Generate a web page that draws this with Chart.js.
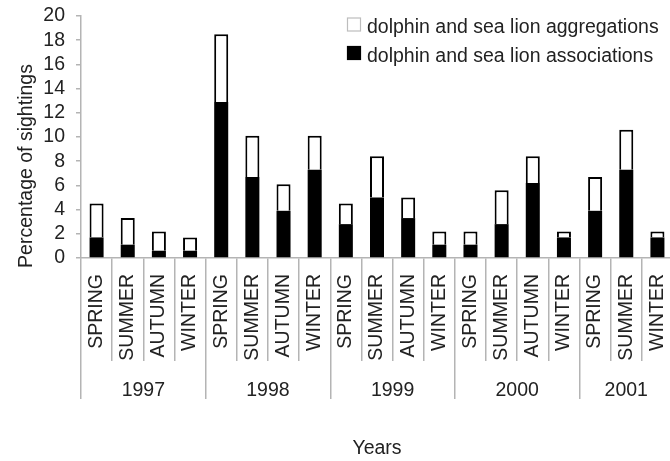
<!DOCTYPE html>
<html>
<head>
<meta charset="utf-8">
<script src="https://cdn.jsdelivr.net/npm/chart.js@4.4.1/dist/chart.umd.min.js"></script>
<style>
  html, body { margin: 0; padding: 0; background: #fff; overflow: hidden; }
  #wrap { width: 670px; height: 461px; overflow: hidden; position: relative; }
  canvas { display: block; }
</style>
</head>
<body>
<div id="wrap"><canvas id="c" width="676" height="461"></canvas></div>
<script>
// ---- data ----
const seasons = ['SPRING','SUMMER','AUTUMN','WINTER',
                 'SPRING','SUMMER','AUTUMN','WINTER',
                 'SPRING','SUMMER','AUTUMN','WINTER',
                 'SPRING','SUMMER','AUTUMN','WINTER',
                 'SPRING','SUMMER','WINTER'];
const years = ['1997','1998','1999','2000','2001'];
const seasonsPerYear = [4, 4, 4, 4, 3];
const associations = [1.7, 1.1, 0.6, 0.6,
                      12.9, 6.7, 3.9, 7.3,
                      2.8, 5.0, 3.3, 1.1,
                      1.1, 2.8, 6.2, 1.7,
                      3.9, 7.3, 1.7];
const aggregations = [2.8, 2.2, 1.6, 1.1,
                      5.6, 3.4, 2.2, 2.8,
                      1.7, 3.4, 1.7, 1.1,
                      1.1, 2.8, 2.2, 0.5,
                      2.8, 3.3, 0.5];
const seriesNames = ['dolphin and sea lion associations', 'dolphin and sea lion aggregations'];
const yTicks = [0, 20, 2]; // min, max, step
const yTitle = 'Percentage of sightings';
const xTitle = 'Years';

// ---- style ----
const FS = 19.5;
const FONT_FAMILY = '"Liberation Sans", Arial, Helvetica, sans-serif';
const TEXT = '#222222';
const LINE = '#b4b4b4';
const font = { family: FONT_FAMILY, size: FS };

// year group tick positions (boundaries and centres) on a linear axis aligned with categories
const bounds = [-0.5];
const centres = [];
seasonsPerYear.forEach((n) => {
  const start = bounds[bounds.length - 1];
  centres.push(start + n / 2);
  bounds.push(start + n);
});
const yearTickVals = bounds.concat(centres).sort((a, b) => a - b);
const isBound = v => bounds.some(b => Math.abs(b - v) < 1e-6);
const yearLabelFor = v => {
  const i = centres.findIndex(c => Math.abs(c - v) < 1e-6);
  return i >= 0 ? years[i] : '';
};

const overlay = {
  id: 'overlay',
  afterDraw(chart) {
    const ctx = chart.ctx, a = chart.chartArea;
    ctx.save();
    ctx.font = FS + 'px ' + FONT_FAMILY;
    ctx.fillStyle = TEXT;
    // y-axis title
    ctx.save();
    ctx.translate(32, (a.top + a.bottom) / 2 + 29);
    ctx.rotate(-Math.PI / 2);
    ctx.textAlign = 'center';
    ctx.textBaseline = 'alphabetic';
    ctx.fillText(yTitle, 0, 0);
    ctx.restore();
    // legend (top entry = upper stack segment)
    const items = [
      { text: seriesNames[1], fill: '#ffffff', stroke: '#bdbdbd' },
      { text: seriesNames[0], fill: '#000000', stroke: '#000000' }
    ];
    const bx = a.left + 266;
    items.forEach((it, i) => {
      const by = a.top + 1.5 + i * 28.5;
      ctx.fillStyle = it.fill;
      ctx.fillRect(bx, by, 14, 14);
      ctx.strokeStyle = it.stroke;
      ctx.lineWidth = 1.2;
      ctx.strokeRect(bx + 0.5, by + 0.5, 13, 13);
      ctx.fillStyle = TEXT;
      ctx.textAlign = 'left';
      ctx.textBaseline = 'alphabetic';
      ctx.fillText(it.text, bx + 20, by + 15.5);
    });
    ctx.restore();
  }
};

new Chart(document.getElementById('c'), {
  type: 'bar',
  data: {
    labels: seasons,
    datasets: [
      {
        label: seriesNames[0],
        data: associations,
        backgroundColor: '#000000',
        borderColor: '#000000',
        borderWidth: 0,
        barPercentage: 0.45,
        categoryPercentage: 1.0
      },
      {
        label: seriesNames[1],
        data: aggregations,
        backgroundColor: '#ffffff',
        borderColor: '#000000',
        borderWidth: 2,
        barPercentage: 0.45,
        categoryPercentage: 1.0
      }
    ]
  },
  options: {
    responsive: false,
    animation: false,
    devicePixelRatio: 1,
    layout: { padding: { top: 16, right: 3, bottom: 0, left: 0 } },
    plugins: {
      legend: { display: false },
      tooltip: { enabled: false }
    },
    scales: {
      x: {
        type: 'category',
        stacked: true,
        offset: true,
        weight: 0,
        grid: {
          display: true, offset: true, drawOnChartArea: false,
          drawTicks: true, tickLength: 103, color: LINE, lineWidth: 1.5
        },
        border: { display: true, color: LINE, width: 1.5 },
        ticks: {
          autoSkip: false, minRotation: 90, maxRotation: 90,
          padding: -87, font: font, color: TEXT
        },
        afterFit: s => { s.height = 103; s.paddingLeft = 0; s.paddingRight = 0; }
      },
      x2: {
        type: 'linear',
        position: 'bottom',
        weight: 1,
        offset: false,
        min: -0.5,
        max: 18.5,
        afterBuildTicks: s => { s.ticks = yearTickVals.map(v => ({ value: v })); },
        grid: {
          display: true, offset: false, drawOnChartArea: false, drawTicks: true, tickLength: 38,
          lineWidth: 1.5,
          color: c => (c.tick && isBound(c.tick.value)) ? LINE : 'rgba(0,0,0,0)'
        },
        border: { display: false },
        ticks: {
          autoSkip: false, maxRotation: 0, minRotation: 0,
          padding: -20, font: font, color: TEXT,
          callback: v => yearLabelFor(v)
        },
        title: {
          display: true, text: xTitle, font: font, color: TEXT,
          padding: { top: 0, bottom: 1 }
        },
        afterFit: s => { s.height = 100; s.paddingLeft = 0; s.paddingRight = 0; }
      },
      y: {
        stacked: true,
        min: yTicks[0],
        max: yTicks[1],
        ticks: { stepSize: yTicks[2], autoSkip: false, padding: 11, font: font, color: TEXT },
        grid: {
          display: true, drawOnChartArea: false, drawTicks: true,
          tickLength: 5, color: LINE, lineWidth: 1.5
        },
        border: { display: true, color: LINE, width: 1.5 },
        afterFit: s => { s.width = 81; s.paddingTop = 0; s.paddingBottom = 0; }
      }
    }
  },
  plugins: [overlay]
});
</script>
</body>
</html>
